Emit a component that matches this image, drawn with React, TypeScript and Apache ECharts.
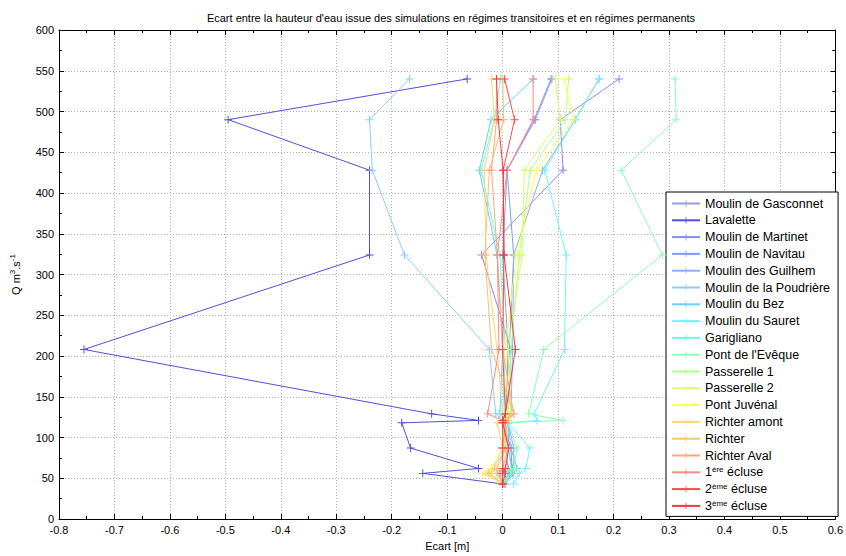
import React, { useEffect, useRef } from "react";
import * as echarts from "echarts";

const Q = [540, 490, 428, 324, 208, 129, 121, 118, 87, 62, 56, 43];

const names = [
  "Moulin de Gasconnet",
  "Lavalette",
  "Moulin de Martinet",
  "Moulin de Navitau",
  "Moulin des Guilhem",
  "Moulin de la Poudrière",
  "Moulin du Bez",
  "Moulin du Sauret",
  "Garigliano",
  "Pont de l'Evêque",
  "Passerelle 1",
  "Passerelle 2",
  "Pont Juvénal",
  "Richter amont",
  "Richter",
  "Richter Aval",
  "1ère écluse",
  "2ème écluse",
  "3ème écluse",
];

const colors = [
  "#9b9bde", "#5050d8", "#8a8af8", "#7e9cff", "#86b2ff", "#8ccdff",
  "#66cfff", "#6ef5ff", "#6cffd6", "#8dffb0", "#b0ff8c", "#d6ff66",
  "#ffff44", "#ffd57a", "#ffbe70", "#ffa77a", "#ff8a80", "#ff4a4a", "#f03c3c",
];

const gasconnet = [0.089, 0.059, 0.008, 0.0, 0.01, 0.005, 0.0, 0.005, 0.005, 0.01, 0.005, 0.0];
const lavalette = [-0.064, -0.495, -0.24, -0.24, -0.755, -0.128, -0.0435, -0.182, -0.166, -0.0435, -0.144, 0.0];
const martinet = [0.21, 0.104, 0.109, -0.038, 0.015, 0.01, 0.005, 0.0, 0.015, 0.017, 0.012, 0.0];
const navitau = [0.087, 0.057, 0.008, 0.02, 0.012, 0.005, 0.0, 0.01, 0.01, 0.017, 0.015, 0.0];
const guilhem = [0.174, 0.131, 0.072, 0.02, 0.018, 0.015, 0.005, 0.01, 0.02, 0.02, 0.018, 0.003];
const poudriere = [-0.168, -0.24, -0.235, -0.177, -0.024, -0.0125, 0.0, 0.005, 0.01, -0.02, 0.01, 0.0];
const bez = [0.055, -0.021, -0.042, -0.01, 0.0, -0.005, 0.005, 0.01, 0.015, 0.026, 0.02, 0.005];
const sauret = [0.174, 0.131, 0.076, 0.1146, 0.1115, 0.057, 0.062, 0.01, 0.049, 0.042, 0.03, 0.02];
const garigliano = [-0.004, -0.015, -0.039, -0.005, 0.005, 0.0, 0.005, 0.0, 0.01, 0.015, 0.01, 0.0];
const pontEveque = [0.311, 0.313, 0.214, 0.288, 0.074, 0.047, 0.109, 0.01, 0.026, 0.02, 0.015, 0.0];
const passerelle1 = [0.119, 0.113, 0.05, 0.03, 0.015, 0.01, 0.005, 0.005, 0.01, 0.005, 0.0, 0.0];
const passerelle2 = [0.095, 0.104, 0.039, 0.035, 0.01, 0.015, 0.01, 0.0, 0.005, -0.01, -0.02, 0.0];
const pontJuvenal = [0.111, 0.128, 0.061, 0.025, 0.005, 0.01, 0.005, 0.0, 0.0, -0.02, -0.036, 0.0];
const richterAmont = [-0.02, -0.015, -0.033, -0.03, -0.01, 0.0, 0.0, -0.01, 0.0, -0.015, -0.03, 0.0];
const richter = [0.0, 0.002, -0.024, -0.032, -0.02, 0.02, 0.0, 0.005, 0.005, -0.01, -0.025, 0.0];
const richterAval = [-0.011, -0.011, -0.02, -0.0095, 0.0, 0.02, 0.01, 0.005, 0.01, 0.0, -0.01, 0.0];
const ecluse1 = [0.055, 0.055, 0.008, -0.0095, -0.0066, -0.027, 0.0, 0.005, 0.0, 0.0, -0.005, 0.0];
const ecluse2 = [0.0036, 0.0215, 0.001, 0.0024, 0.0, 0.005, 0.0, 0.0, 0.0, 0.0, 0.005, 0.0];
const ecluse3 = [-0.011, -0.008, 0.001, 0.0024, 0.023, 0.005, 0.0, 0.0, 0.011, 0.005, 0.0, 0.0];

const values = [
  gasconnet, lavalette, martinet, navitau, guilhem, poudriere, bez, sauret,
  garigliano, pontEveque, passerelle1, passerelle2, pontJuvenal, richterAmont,
  richter, richterAval, ecluse1, ecluse2, ecluse3,
];

const PLUS = "path://M4.4,0H5.6V4.4H10V5.6H5.6V10H4.4V5.6H0V4.4H4.4Z";
const FONT = "Liberation Sans";

export default function App() {
  const ref = useRef<HTMLDivElement>(null);
  useEffect(() => {
    if (!ref.current) return;
    const chart = echarts.init(ref.current, null, { renderer: "svg" });
    const series = names.map((name, i) => ({
      name,
      type: "line",
      data: values[i].map((x, j) => [x, Q[j]]),
      symbol: PLUS,
      symbolSize: 8,
      showSymbol: true,
      lineStyle: { color: colors[i], width: 1 },
      itemStyle: { color: colors[i] },
      emphasis: { disabled: true },
      z: 2 + i,
    }));
    const axisCommon = {
      axisLine: { show: true, onZero: false, lineStyle: { color: "#000", width: 1 } },
      axisTick: { show: true, inside: true, length: 5, lineStyle: { color: "#000" } },
      minorTick: { show: true, splitNumber: 2, length: 3, lineStyle: { color: "#000" } },
    };
    const richStyles = (size: number) => ({
      n: { fontSize: size, fontFamily: FONT, color: "#000", lineHeight: 13, verticalAlign: "bottom" },
      sup: { fontSize: 8, fontFamily: FONT, color: "#000", lineHeight: 13, verticalAlign: "top", padding: [0, 0, 5, 0] },
    });
    chart.setOption({
      animation: false,
      backgroundColor: "#fff",
      title: {
        text: "Ecart entre la hauteur d'eau issue des simulations en régimes transitoires et en régimes permanents",
        left: 446,
        textAlign: "center",
        top: 7,
        textStyle: { fontSize: 11, fontWeight: "normal", color: "#000", fontFamily: FONT },
      },
      grid: { left: 55, right: 8, top: 30, bottom: 33, containLabel: false },
      legend: {
        orient: "vertical",
        left: 666,
        top: 192,
        padding: [5, 8, 4, 5],
        itemWidth: 28,
        itemHeight: 8,
        itemGap: 3.8,
        borderColor: "#000",
        borderWidth: 1,
        backgroundColor: "#fff",
        data: names,
        formatter: (name: string) => {
          const m = name.match(/^(\d)(ère|ème) (.*)$/);
          if (m) return `{n|${m[1]}}{sup|${m[2]}}{n| ${m[3]}}`;
          return `{n|${name}}`;
        },
        textStyle: {
          color: "#000",
          fontFamily: FONT,
          fontSize: 12.5,
          rich: richStyles(12.5),
        },
      },
      xAxis: [
        {
          type: "value",
          min: -0.8,
          max: 0.6,
          interval: 0.1,
          name: "Ecart [m]",
          nameLocation: "middle",
          nameGap: 21,
          nameTextStyle: { fontSize: 11, color: "#000", fontFamily: FONT },
          ...axisCommon,
          axisLabel: { color: "#000", fontSize: 11, fontFamily: FONT, margin: 5 },
          splitLine: { show: true, lineStyle: { color: "#b4b4b4", type: [1, 2], width: 1 } },
        },
        {
          type: "value",
          position: "top",
          min: -0.8,
          max: 0.6,
          interval: 0.1,
          ...axisCommon,
          axisLabel: { show: false },
          splitLine: { show: false },
        },
      ],
      yAxis: [
        {
          type: "value",
          min: 0,
          max: 600,
          interval: 50,
          name: "{n|Q m}{sup|3}{n|.s}{sup|-1}",
          nameLocation: "middle",
          nameRotate: 90,
          nameGap: 38,
          nameTextStyle: {
            color: "#000",
            fontFamily: FONT,
            fontSize: 11,
            rich: richStyles(11),
          },
          ...axisCommon,
          axisLabel: { color: "#000", fontSize: 11, fontFamily: FONT, margin: 5 },
          splitLine: { show: true, lineStyle: { color: "#b4b4b4", type: [1, 2], width: 1 } },
        },
        {
          type: "value",
          position: "right",
          min: 0,
          max: 600,
          interval: 50,
          ...axisCommon,
          axisLabel: { show: false },
          splitLine: { show: false },
        },
      ],
      series,
    });
    return () => chart.dispose();
  }, []);
  return (
    <div
      ref={ref}
      style={{ position: "fixed", left: 0, top: 0, width: 846, height: 556, background: "#fff" }}
    />
  );
}
